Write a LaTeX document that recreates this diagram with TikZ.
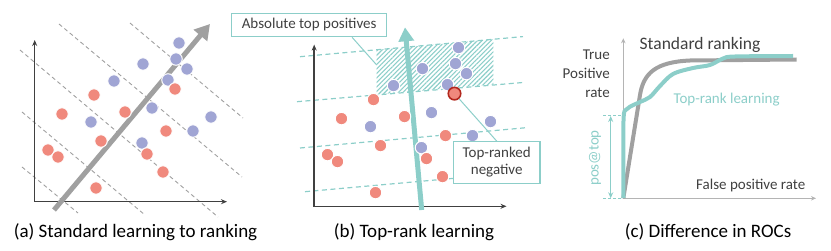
\documentclass[tikz,border=0pt]{standalone}
\usepackage{fontspec}
\setmainfont{Carlito}
\usetikzlibrary{arrows.meta, patterns.meta}

\definecolor{dotblue}{RGB}{160,165,212}
\definecolor{dotred}{RGB}{240,137,125}
\definecolor{negred}{RGB}{178,40,30}
\definecolor{aqua}{RGB}{140,206,201}
\definecolor{inkgray}{RGB}{64,64,64}
\definecolor{midgray}{RGB}{160,160,160}
\definecolor{axisgray}{RGB}{180,180,180}

% posisi titik (koordinat panel a)
\newcommand{\bluepts}{179/43, 176/59, 187/69, 168/80, 143/64, 114/81, 152/108, 91/122, 193/131, 211/117, 142/143}
\newcommand{\redpts}{94/95, 62/114, 125/112, 166/131, 101/141, 48/150, 58/157, 147/154, 163/172, 96/188}

\begin{document}
\begin{tikzpicture}[x=1pt, y=-1pt, >={Stealth[length=6pt, width=5pt]},
    bluedot/.style={circle, inner sep=0pt, minimum size=12.5pt, fill=dotblue, draw=white, line width=1pt},
    reddot/.style={bluedot, fill=dotred},
    topneg/.style={circle, inner sep=0pt, minimum size=12.5pt, fill=dotred, draw=negred, line width=1.6pt},
    axis/.style={draw=inkgray, line width=1.5pt, <->},
    graydash/.style={draw=midgray, line width=0.9pt, dash pattern=on 4pt off 3pt},
    aquadash/.style={draw=aqua, line width=1.2pt, dash pattern=on 5pt off 3.5pt},
    callbox/.style={draw=aqua, line width=1.2pt, fill=white, text=inkgray, inner sep=0pt,
                    font=\fontsize{15}{17}\selectfont},
    callline/.style={draw=aqua, line width=1pt},
    caption/.style={anchor=base, font=\fontsize{19}{22}\selectfont},
    label/.style={text=inkgray, font=\fontsize{15}{17}\selectfont}]

    \useasboundingbox (0,0) rectangle (831,251);

    % (a) garis sejajar, sumbu, arah peringkat, titik
    \foreach \xa/\ya/\xb/\yb in {59/24/242/177, 130/23/243/118, 20/50/218/217, 22/112/145/215, 22/167/78/213}
        \draw[graydash] (\xa,\ya) -- (\xb,\yb);
    \coordinate (a-y) at (34.7,40);
    \coordinate (a-x) at (227,201.7);
    \draw[axis] (a-y) |- (a-x);
    \coordinate (a-start) at (54,210);
    \coordinate (a-tip) at (210,24);
    \draw[draw=midgray, line width=5pt, -{Triangle[length=15pt, width=17pt]}] (a-start) -- (a-tip);
    \foreach \x/\y [count=\i] in \bluepts \node[bluedot] (a-b\i) at (\x,\y) {};
    \foreach \x/\y [count=\i] in \redpts \node[reddot] (a-r\i) at (\x,\y) {};
    \node[reddot] (a-top) at (175,89) {};
    \node[caption] (a-cap) at (135.5,237) {(a) Standard learning to ranking};

    % (b) garis sejajar (hijau), daerah arsiran, panah, titik
    \foreach \xa/\ya/\xb/\yb in {300/56.7/523/36.6, 297/101.7/523/82.5, 300/148/525/127.8, 305/191.7/525/171.9}
        \draw[aquadash] (\xa,\ya) -- (\xb,\yb);
    \fill[pattern={Lines[angle=45, distance=3.2pt, line width=1.1pt]}, pattern color=aqua]
        (376.7,49.8) -- (493.3,39.3) -- (493.3,84.5) -- (376.7,94.5) -- cycle;
    \coordinate (hatchpt) at (376.7,65);
    \begin{scope}[shift={(279.5,4.6)}]
        \coordinate (b-y) at (34.7,40);
        \coordinate (b-x) at (227,201.7);
        \draw[axis] (b-y) |- (b-x);
    \end{scope}
    \coordinate (b-start) at (421.7,210);
    \coordinate (b-tip) at (405,27.3);
    \draw[draw=aqua, line width=5pt, -{Triangle[length=14pt, width=15pt]}] (b-start) -- (b-tip);
    \begin{scope}[shift={(279.5,4.6)}]
        \foreach \x/\y [count=\i] in \bluepts \node[bluedot] (b-b\i) at (\x,\y) {};
        \foreach \x/\y [count=\i] in \redpts \node[reddot] (b-r\i) at (\x,\y) {};
        \node[topneg] (b-top) at (175,89) {};
    \end{scope}
    \node[callbox, minimum width=155pt, minimum height=23.4pt] (absbox) at (309.2,25) {Absolute top positives};
    \draw[callline] (absbox.-16) -- (hatchpt);
    \node[callbox, minimum width=86.7pt, minimum height=41.6pt, align=center] (negbox) at (496.7,162.5) {Top-ranked\\negative};
    \draw[callline] (b-top) -- (negbox.north);
    \node[caption] (b-cap) at (414,237) {(b) Top-rank learning};

    % (c) kurva ROC
    \coordinate (c-y) at (623.3,38.3);
    \coordinate (c-o) at (623.3,198.3);
    \coordinate (c-x) at (816,198.3);
    \draw[draw=axisgray, line width=1pt, {Stealth[length=5pt,width=4.5pt]}-{Stealth[length=5pt,width=4.5pt]}] (c-y) |- (c-x);
    \draw[draw=midgray, line width=4pt, line join=round]
        (c-o) -- (640,95) .. controls (643.5,73) and (656,62) .. (690,60.5) -- (796.7,59.5);
    \draw[draw=aqua, line width=4pt, line join=round]
        plot[smooth, tension=0.55] coordinates {(623.5,198) (623.5,121) (627,109) (640,102) (650,97) (660,86)
                                                (673,74) (693,68) (710,65) (723,58.5) (735,56.5) (793,56)};
    % pos@top
    \coordinate (pt-a) at (603,116);
    \coordinate (pt-b) at (622,116);
    \coordinate (pt-c) at (603,198.3);
    \coordinate (pt-d) at (622,198.3);
    \draw[aquadash, line width=1pt, dash pattern=on 3pt off 2pt] (pt-a) -- (pt-b) (pt-c) -- (pt-d);
    \draw[draw=aqua, line width=1pt, <->] (610.7,116) -- (610.7,198.3);
    \node[text=aqua, rotate=90, font=\fontsize{15}{17}\selectfont] (postop) at (595,158) {pos@top};

    \node[text=inkgray, anchor=base, font=\fontsize{17.5}{20}\selectfont] (stdlbl) at (700,50) {Standard ranking};
    \node[label, anchor=base east] (truelbl) at (613.3,60) {True};
    \node[label, anchor=base east] (poslbl) at (613.3,79) {Positive};
    \node[label, anchor=base east] (ratelbl) at (613.3,98) {rate};
    \node[label, text=aqua, anchor=base west] (toplbl) at (670,104) {Top-rank learning};
    \node[label, anchor=base west] (fprlbl) at (692.7,190) {False positive rate};
    \node[caption] (c-cap) at (708,237) {(c) Difference in ROCs};

\end{tikzpicture}
\end{document}
